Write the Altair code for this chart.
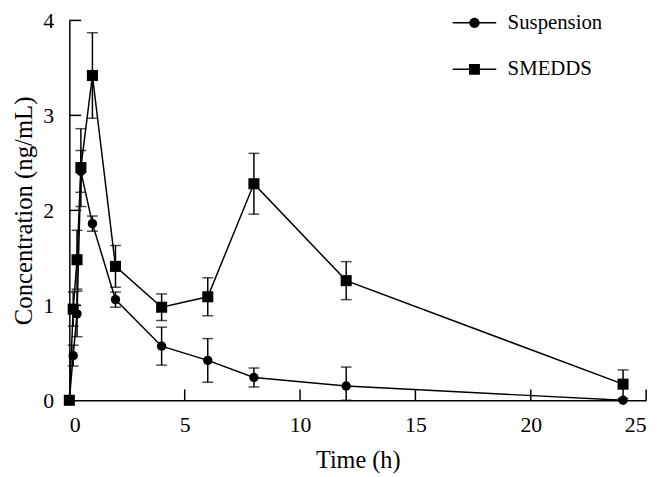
import altair as alt
import pandas as pd

# ---- data ----
times = [0, 0.167, 0.333, 0.5, 1, 2, 4, 6, 8, 12, 24]
susp_mean = [0.0, 0.47, 0.91, 2.41, 1.86, 1.06, 0.57, 0.42, 0.24, 0.15, 0.0]
susp_sd = [0.0, 0.11, 0.24, 0.22, 0.08, 0.08, 0.20, 0.23, 0.10, 0.20, 0.0]
smedds_mean = [0.0, 0.96, 1.48, 2.45, 3.42, 1.41, 0.98, 1.09, 2.28, 1.26, 0.17]
smedds_sd = [0.0, 0.18, 0.31, 0.41, 0.45, 0.22, 0.14, 0.20, 0.32, 0.20, 0.15]
series_names = ["Suspension", "SMEDDS"]
x_ticks = [5, 10, 15, 20, 25]
y_ticks = [1, 2, 3, 4]

rows = []
for name, means, sds in [("Suspension", susp_mean, susp_sd), ("SMEDDS", smedds_mean, smedds_sd)]:
    for t, m, s in zip(times, means, sds):
        rows.append({"series": name, "time": t, "conc": m,
                     "lo": max(0.0, m - s), "hi": m + s, "sd": s})
df = pd.DataFrame(rows)
caps = pd.concat([
    df[df.sd > 0].assign(cap=df.lo),
    df[df.sd > 0].assign(cap=df.hi),
])

FONT = "Liberation Serif"
W, H = 583, 384

xs = alt.Scale(domain=[0, 25], nice=False, zero=False)
ys = alt.Scale(domain=[0, 4], nice=False)

base = alt.Chart(df)

line = base.mark_line(color="black", strokeWidth=1.5).encode(
    x=alt.X("time:Q", scale=xs,
            axis=alt.Axis(values=[0, 5, 10, 15, 20, 25], ticks=False, grid=False,
                          title="Time (h)", labelPadding=15, titlePadding=13,
                          titleFontSize=24.5,
                          domainColor="black", domainWidth=1.5, format="d")),
    y=alt.Y("conc:Q", scale=ys,
            axis=alt.Axis(values=[0, 1, 2, 3, 4], ticks=False, grid=False,
                          title="Concentration (ng/mL)", labelPadding=16,
                          titleFontSize=25,
                          titlePadding=6, domainColor="black", domainWidth=1.5, format="d")),
    detail="series:N",
)

err = base.transform_filter("datum.sd > 0").mark_rule(color="black", strokeWidth=1.5).encode(
    x="time:Q", y="lo:Q", y2="hi:Q"
)

cap = alt.Chart(caps).mark_tick(color="black", orient="horizontal", size=11, thickness=1.5).encode(
    x="time:Q", y="cap:Q"
)

pts = base.mark_point(filled=True, color="black", opacity=1).encode(
    x="time:Q", y="conc:Q",
    shape=alt.Shape("series:N", scale=alt.Scale(domain=series_names, range=["circle", "square"]), legend=None),
    size=alt.Size("series:N", scale=alt.Scale(domain=series_names, range=[90, 125]), legend=None),
)

# legend-only layer (no rows drawn): line-with-marker symbols (filled outlines)
legend_paths = [
    "M-4.4,-0.15L-0.9,-0.15L-0.9,0.15L-4.4,0.15Z"
    "M0.9,-0.15L4.4,-0.15L4.4,0.15L0.9,0.15Z"
    "M1.05,0A1.05,1.05,0,1,1,-1.05,0A1.05,1.05,0,1,1,1.05,0Z",
    "M-4.4,-0.15L-1,-0.15L-1,0.15L-4.4,0.15Z"
    "M1,-0.15L4.4,-0.15L4.4,0.15L1,0.15Z"
    "M-1.1,-1.1L1.1,-1.1L1.1,1.1L-1.1,1.1Z",
]
leg = base.transform_filter("false").mark_point(
    filled=True, color="black", opacity=1
).encode(
    x="time:Q", y="conc:Q",
    shape=alt.Shape("series:N", title=None,
                    scale=alt.Scale(domain=series_names, range=legend_paths),
                    legend=alt.Legend(orient="none", legendX=399, legendY=-8,
                                      symbolSize=100, labelOffset=23,
                                      labelFont=FONT, labelFontSize=21,
                                      labelColor="black", rowPadding=25,
                                      symbolFillColor="black", symbolStrokeWidth=0,
                                      padding=0)),
)

ytick_df = pd.DataFrame({"v": y_ticks})
xtick_df = pd.DataFrame({"v": x_ticks})
ytk = alt.Chart(ytick_df).mark_rule(color="black", strokeWidth=1.5).encode(
    y=alt.Y("v:Q", scale=ys), x=alt.value(0), x2=alt.value(12)
)
xtk = alt.Chart(xtick_df).mark_rule(color="black", strokeWidth=1.5).encode(
    x=alt.X("v:Q", scale=xs), y=alt.value(H), y2=alt.value(H - 11)
)

chart = alt.layer(line, err, cap, pts, ytk, xtk, leg).resolve_scale(
    shape="independent", size="independent"
).properties(
    width=W, height=H,
    background="white",
    autosize=alt.AutoSizeParams(type="none"),
    padding={"left": 62, "top": 10, "right": 12, "bottom": 75},
).configure(font=FONT).configure_view(stroke=None).configure_axis(
    labelFont=FONT, titleFont=FONT, labelFontSize=22,
    labelColor="black", titleColor="black", titleFontWeight="normal",
).configure_legend(
    labelFont=FONT, labelFontSize=21, labelColor="black",
)

chart.save("out.html", embed_options={"renderer": "svg", "actions": False})
